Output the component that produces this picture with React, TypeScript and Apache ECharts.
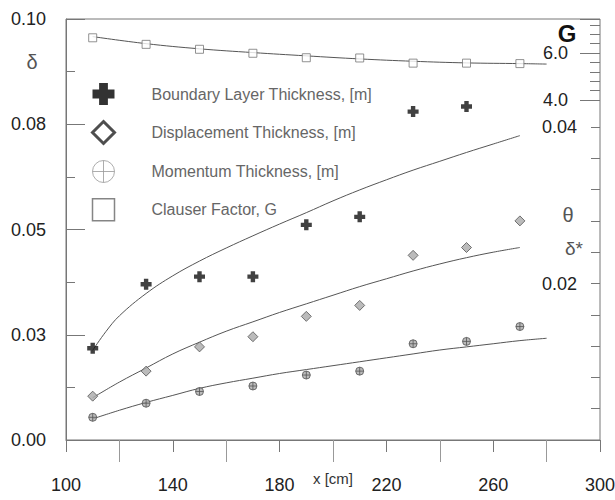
import React, { useEffect, useRef } from 'react';
import * as echarts from 'echarts';

// Stations along the plate [cm]
const stations = [110, 130, 150, 170, 190, 210, 230, 250, 270];

// Measured values
const boundaryLayer = [0.0218, 0.037, 0.0388, 0.0388, 0.0511, 0.053, 0.078, 0.0792]; // δ [m], stations 110..250
const displacement = [0.0056, 0.0088, 0.0119, 0.0132, 0.0158, 0.0172, 0.0236, 0.0246, 0.028]; // δ* [m]
const momentum = [0.0029, 0.0047, 0.0062, 0.0069, 0.0083, 0.0088, 0.0123, 0.0126, 0.0145]; // θ [m]
const clauser = [6.65, 6.37, 6.16, 5.99, 5.8, 5.79, 5.57, 5.57, 5.55]; // G

// Fitted curves
const deltaFitX = [110, 115, 120, 130, 140, 150, 160, 170, 180, 190, 200, 210, 220, 230, 240, 250, 260, 270];
const deltaFit = [0.0213, 0.0258, 0.0295, 0.0348, 0.039, 0.0425, 0.0456, 0.0485, 0.0513, 0.054, 0.0568, 0.0594, 0.0618, 0.0641, 0.0662, 0.0683, 0.0703, 0.0723];
const dispFitX = [110, 120, 130, 140, 150, 160, 170, 180, 190, 200, 210, 220, 230, 240, 250, 260, 270];
const dispFit = [0.0054, 0.0074, 0.0092, 0.011, 0.0125, 0.0139, 0.0151, 0.0163, 0.0174, 0.0185, 0.0196, 0.0206, 0.0216, 0.0225, 0.0233, 0.024, 0.0246];
const momFitX = [110, 120, 130, 140, 150, 160, 170, 180, 190, 200, 210, 220, 230, 240, 250, 260, 270, 280];
const momFit = [0.0027, 0.0038, 0.0048, 0.0057, 0.0066, 0.0073, 0.0079, 0.0085, 0.009, 0.0095, 0.01, 0.0105, 0.011, 0.0115, 0.0119, 0.0123, 0.0127, 0.013];
const clauserFitX = [110, 130, 150, 170, 190, 210, 230, 250, 270, 280];
const clauserFit = [6.7, 6.4, 6.18, 6.02, 5.88, 5.75, 5.65, 5.58, 5.55, 5.53];

// Tick labels
const leftTickLabels = ['0.00', '0.03', '0.05', '0.08', '0.10'];
const thetaTickValues = [0.02, 0.04];
const thetaTickLabels = ['0.02', '0.04'];
const gTickValues = [4, 6];
const gTickLabels = ['4.0', '6.0'];

const seriesNames = [
  'Boundary Layer Thickness, [m]',
  'Displacement Thickness, [m]',
  'Momentum Thickness, [m]',
  'Clauser Factor, G',
];

const FONT = "'Liberation Sans', Arial, sans-serif";
const plusPath = 'path://M6,0H14V6H20V14H14V20H6V14H0V6H6Z';
const circleCrossPath = 'path://M10,0A10,10,0,1,1,10,20A10,10,0,1,1,10,0Z M10,0V20 M0,10H20';

const pairs = (xs: number[], ys: number[]) => ys.map((y, i) => [xs[i], y]);

export default function App() {
  const ref = useRef<HTMLDivElement>(null);
  useEffect(() => {
    document.body.style.margin = '0';
    const chart = echarts.init(ref.current as HTMLDivElement, null, { renderer: 'svg' });
    const axisColor = '#777';
    const hiddenX = (gridIndex: number) => ({ gridIndex, type: 'value', min: 100, max: 300, show: false });
    const fitLine = (name: string, x: number, y: number, data: number[][]) => ({
      name, type: 'line', xAxisIndex: x, yAxisIndex: y, data, smooth: 0.4,
      showSymbol: false, symbol: 'none',
      lineStyle: { color: '#555', width: 1 }, z: 2, silent: true,
    });
    const option: any = {
      animation: false,
      textStyle: { fontFamily: FONT },
      grid: [
        { left: 66, right: 15, top: 19, bottom: 60, show: true, borderColor: axisColor, borderWidth: 1, outerBoundsMode: 'none', containLabel: false },
        { left: 66, right: 15, top: 127, bottom: 60, outerBoundsMode: 'none', containLabel: false },
        { left: 66, right: 15, top: 19, height: 81, outerBoundsMode: 'none', containLabel: false },
      ],
      xAxis: [
        {
          gridIndex: 0, type: 'value', min: 100, max: 300, interval: 40,
          axisLine: { show: true, lineStyle: { color: axisColor } },
          axisTick: { show: true, length: 12, lineStyle: { color: axisColor } },
          minorTick: { show: true, splitNumber: 2, length: 22, lineStyle: { color: '#999' } },
          splitLine: { show: false },
          axisLabel: { margin: 36, fontSize: 18, color: '#222', fontFamily: FONT },
          name: 'x [cm]', nameLocation: 'middle', nameGap: 31, nameMoveOverlap: false,
          nameTextStyle: { fontSize: 15, color: '#333', fontFamily: FONT },
        },
        hiddenX(1),
        hiddenX(2),
      ],
      yAxis: [
        {
          gridIndex: 0, type: 'value', min: 0, max: 0.1, interval: 0.025, position: 'left',
          axisLine: { show: true, lineStyle: { color: axisColor } },
          axisTick: { show: true, inside: true, length: 19, lineStyle: { color: axisColor } },
          minorTick: { show: true, splitNumber: 2, length: 9, lineStyle: { color: axisColor } },
          splitLine: { show: false },
          axisLabel: {
            margin: 20, fontSize: 18, color: '#222', fontFamily: FONT,
            formatter: (v: number) => leftTickLabels[Math.round(v / 0.025)] ?? '',
          },
        },
        {
          gridIndex: 1, type: 'value', min: 0, max: 0.04, interval: 0.004, position: 'right',
          axisLine: { show: false },
          axisTick: { show: true, inside: true, length: 9, lineStyle: { color: axisColor } },
          splitLine: { show: false },
          axisLabel: {
            inside: true, margin: 23, fontSize: 18, color: '#222', fontFamily: FONT,
            formatter: (v: number) => {
              const i = thetaTickValues.findIndex((t) => Math.abs(t - v) < 1e-9);
              return i >= 0 ? thetaTickLabels[i] : '';
            },
          },
        },
        {
          gridIndex: 2, type: 'value', min: 4, max: 7.45, interval: 0.4, position: 'right',
          axisLine: { show: false },
          axisTick: { show: true, inside: true, length: 10, lineStyle: { color: axisColor } },
          splitLine: { show: false },
          axisLabel: { show: false },
        },
        {
          gridIndex: 2, type: 'value', min: 4, max: 7.45, interval: 2, position: 'right',
          axisLine: { show: false },
          axisTick: { show: true, inside: true, length: 20, lineStyle: { color: axisColor } },
          splitLine: { show: false },
          axisLabel: {
            inside: true, margin: 32, fontSize: 18, color: '#222', fontFamily: FONT,
            formatter: (v: number) => {
              const i = gTickValues.findIndex((t) => Math.abs(t - v) < 1e-9);
              return i >= 0 ? gTickLabels[i] : '';
            },
          },
        },
      ],
      legend: {
        orient: 'vertical', left: 86, top: 78, itemWidth: 22, itemHeight: 22, itemGap: 15,
        selectedMode: false,
        textStyle: { fontSize: 16, color: '#666', fontFamily: FONT, padding: [0, 0, 0, 32] },
        data: [
          { name: seriesNames[0], icon: plusPath, itemStyle: { color: '#000' } },
          { name: seriesNames[1], icon: 'diamond', itemStyle: { color: '#fff', borderColor: '#222', borderWidth: 3 } },
          { name: seriesNames[2], icon: circleCrossPath, itemStyle: { color: '#fff', borderColor: '#999', borderWidth: 1 } },
          { name: seriesNames[3], icon: 'rect', itemStyle: { color: '#fff', borderColor: '#666', borderWidth: 1.5 } },
        ],
      },
      graphic: [
        { type: 'text', x: 32, y: 62, style: { text: 'δ', fontSize: 20, fill: '#555', align: 'center', verticalAlign: 'middle', fontFamily: FONT } },
        { type: 'text', x: 567, y: 33, style: { text: 'G', fontSize: 24, fontWeight: 'bold', fill: '#111', align: 'center', verticalAlign: 'middle', fontFamily: FONT } },
        { type: 'text', x: 568, y: 215, style: { text: 'θ', fontSize: 20, fill: '#555', align: 'center', verticalAlign: 'middle', fontFamily: FONT } },
        { type: 'text', x: 574, y: 248, style: { text: 'δ*', fontSize: 19, fill: '#555', align: 'center', verticalAlign: 'middle', fontFamily: FONT } },
      ],
      series: [
        {
          name: seriesNames[0], type: 'scatter', xAxisIndex: 0, yAxisIndex: 0,
          data: pairs(stations, boundaryLayer), symbol: plusPath, symbolSize: 11,
          itemStyle: { color: '#111' }, z: 3,
        },
        fitLine('δ fit', 0, 0, pairs(deltaFitX, deltaFit)),
        {
          name: seriesNames[1], type: 'scatter', xAxisIndex: 1, yAxisIndex: 1,
          data: pairs(stations, displacement), symbol: 'diamond', symbolSize: 10,
          itemStyle: { color: '#aaa', borderColor: '#555', borderWidth: 1 }, z: 3,
        },
        fitLine('δ* fit', 1, 1, pairs(dispFitX, dispFit)),
        {
          name: seriesNames[2], type: 'scatter', xAxisIndex: 1, yAxisIndex: 1,
          data: pairs(stations, momentum), symbol: circleCrossPath, symbolSize: 8,
          itemStyle: { color: '#aaa', borderColor: '#555', borderWidth: 1 }, z: 3,
        },
        fitLine('θ fit', 1, 1, pairs(momFitX, momFit)),
        {
          name: seriesNames[3], type: 'scatter', xAxisIndex: 2, yAxisIndex: 2,
          data: pairs(stations, clauser), symbol: 'rect', symbolSize: 8,
          itemStyle: { color: '#fff', borderColor: '#777', borderWidth: 1 }, z: 3,
        },
        fitLine('G fit', 2, 2, pairs(clauserFitX, clauserFit)),
      ],
    };
    chart.setOption(option);
    return () => chart.dispose();
  }, []);
  return <div ref={ref} style={{ width: 615, height: 500 }} />;
}
